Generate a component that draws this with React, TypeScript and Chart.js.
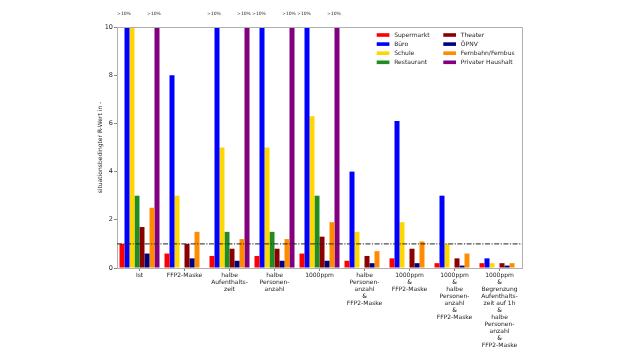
import React, { useEffect, useRef } from 'react';
import { Chart, registerables } from 'chart.js';

Chart.register(...registerables);

const categories: (string | string[])[] = [
  'Ist',
  'FFP2-Maske',
  ['halbe', 'Aufenthalts-', 'zeit'],
  ['halbe', 'Personen-', 'anzahl'],
  '1000ppm',
  ['halbe', 'Personen-', 'anzahl', '&', 'FFP2-Maske'],
  ['1000ppm', '&', 'FFP2-Maske'],
  ['1000ppm', '&', 'halbe', 'Personen-', 'anzahl', '&', 'FFP2-Maske'],
  ['1000ppm', '&', 'Begrenzung', 'Aufenthalts-', 'zeit auf 1h', '&', 'halbe', 'Personen-', 'anzahl', '&', 'FFP2-Maske'],
];

const seriesNames = ['Supermarkt', 'Büro', 'Schule', 'Restaurant', 'Theater', 'ÖPNV', 'Fernbahn/Fernbus', 'Privater Haushalt'];
const seriesColors = ['#ff0000', '#0000ff', '#ffd700', '#228b22', '#8b0000', '#000080', '#ff8c00', '#800080'];

// values > 10 are shown clipped with a ">10%" marker
const supermarkt = [1.0, 0.6, 0.5, 0.5, 0.6, 0.3, 0.4, 0.2, 0.2];
const buero = [12, 8.0, 12, 12, 12, 4.0, 6.1, 3.0, 0.4];
const schule = [10, 3.0, 5.0, 5.0, 6.3, 1.5, 1.9, 1.0, 0.2];
const restaurant = [3.0, 0, 1.5, 1.5, 3.0, 0, 0, 0, 0];
const theater = [1.7, 1.0, 0.8, 0.8, 1.3, 0.5, 0.8, 0.4, 0.2];
const oepnv = [0.6, 0.4, 0.3, 0.3, 0.3, 0.2, 0.2, 0.1, 0.1];
const fernbahn = [2.5, 1.5, 1.2, 1.2, 1.9, 0.7, 1.1, 0.6, 0.2];
const haushalt = [12, 0, 12, 12, 12, 0, 0, 0, 0];

const seriesValues = [supermarkt, buero, schule, restaurant, theater, oepnv, fernbahn, haushalt];

const yMin = 0;
const yMax = 10;
const yStep = 2;
const thresholdValue = 1;
const overflowLabel = '>10%';
const yTitle = 'situationsbedingter R-Wert in -';

const FONT = "'DejaVu Sans', sans-serif";

const extrasPlugin = {
  id: 'extras',
  afterDatasetsDraw(chart: any) {
    const { ctx, chartArea, scales } = chart;
    const { left, right, top, bottom } = chartArea;
    ctx.save();
    // threshold dash-dot line
    const yT = scales.y.getPixelForValue(thresholdValue);
    ctx.strokeStyle = '#222';
    ctx.lineWidth = 1;
    ctx.setLineDash([5, 1.5, 1.2, 1.5]);
    ctx.beginPath();
    ctx.moveTo(left, yT);
    ctx.lineTo(right, yT);
    ctx.stroke();
    ctx.setLineDash([]);

    // frame (top/right)
    ctx.strokeStyle = '#b0b0b0';
    ctx.lineWidth = 1;
    ctx.beginPath();
    ctx.moveTo(left, top + 0.5);
    ctx.lineTo(right + 0.5, top + 0.5);
    ctx.lineTo(right + 0.5, bottom);
    ctx.stroke();

    // overflow labels
    ctx.fillStyle = '#222';
    ctx.font = `4.5px ${FONT}`;
    ctx.textAlign = 'center';
    ctx.textBaseline = 'middle';
    chart.data.datasets.forEach((ds: any, di: number) => {
      const meta = chart.getDatasetMeta(di);
      ds.data.forEach((v: number, i: number) => {
        if (v > yMax) {
          const el = meta.data[i];
          ctx.fillText(overflowLabel, el.x - 3, top - 13);
        }
      });
    });

    // legend (2 columns, column-major)
    ctx.font = `6px ${FONT}`;
    ctx.textAlign = 'left';
    const colX = [right - 145.3, right - 78.7];
    const rowY0 = top + 8;
    const rowH = 9.1;
    seriesNames.forEach((name, i) => {
      const c = Math.floor(i / 4);
      const r = i % 4;
      const x = colX[c];
      const y = rowY0 + r * rowH;
      ctx.fillStyle = seriesColors[i];
      ctx.fillRect(x, y - 1.8, 12.7, 3.6);
      ctx.fillStyle = '#222';
      ctx.fillText(name, x + 17.5, y + 0.3);
    });

    // y title
    ctx.save();
    ctx.translate(100, (top + bottom) / 2);
    ctx.rotate(-Math.PI / 2);
    ctx.textAlign = 'center';
    ctx.textBaseline = 'middle';
    ctx.font = `6px ${FONT}`;
    ctx.fillStyle = '#222';
    ctx.fillText(yTitle, 0, 0);
    ctx.restore();

    ctx.restore();
  },
};

export default function App() {
  const ref = useRef<HTMLCanvasElement>(null);
  useEffect(() => {
    document.body.style.margin = '0';
    const canvas = ref.current!;
    const chart = new Chart(canvas, {
      type: 'bar',
      data: {
        labels: categories,
        datasets: seriesNames.map((name, i) => ({
          label: name,
          data: seriesValues[i],
          backgroundColor: seriesColors[i],
          borderWidth: 0,
          categoryPercentage: 8 / 9,
          barPercentage: 1,
        })),
      },
      options: {
        responsive: false,
        animation: false,
        devicePixelRatio: 1,
        layout: { padding: { top: 27, right: 104, left: 0, bottom: 0 } },
        plugins: { legend: { display: false }, tooltip: { enabled: false } },
        scales: {
          x: {
            offset: true,
            grid: { display: true, drawOnChartArea: false, offset: false, tickLength: 3, color: '#888' },
            border: { color: '#b0b0b0' },
            ticks: {
              font: { size: 6, family: FONT, lineHeight: 1.16 },
              color: '#222',
              maxRotation: 0,
              minRotation: 0,
              autoSkip: false,
              padding: 1,
            },
            afterFit: (s: any) => { s.height = 84; },
          },
          y: {
            min: yMin,
            max: yMax,
            grid: { display: true, drawOnChartArea: false, tickLength: 3, color: '#888' },
            border: { color: '#b0b0b0' },
            ticks: { stepSize: yStep, font: { size: 6.5, family: FONT }, color: '#222', padding: 1 },
            afterFit: (s: any) => { s.width = 117; },
          },
        },
      },
      plugins: [extrasPlugin],
    } as any);
    return () => chart.destroy();
  }, []);
  return (
    <div style={{ width: 626, height: 352 }}>
      <canvas ref={ref} width={626} height={352} style={{ display: 'block', width: 626, height: 352 }} />
    </div>
  );
}
